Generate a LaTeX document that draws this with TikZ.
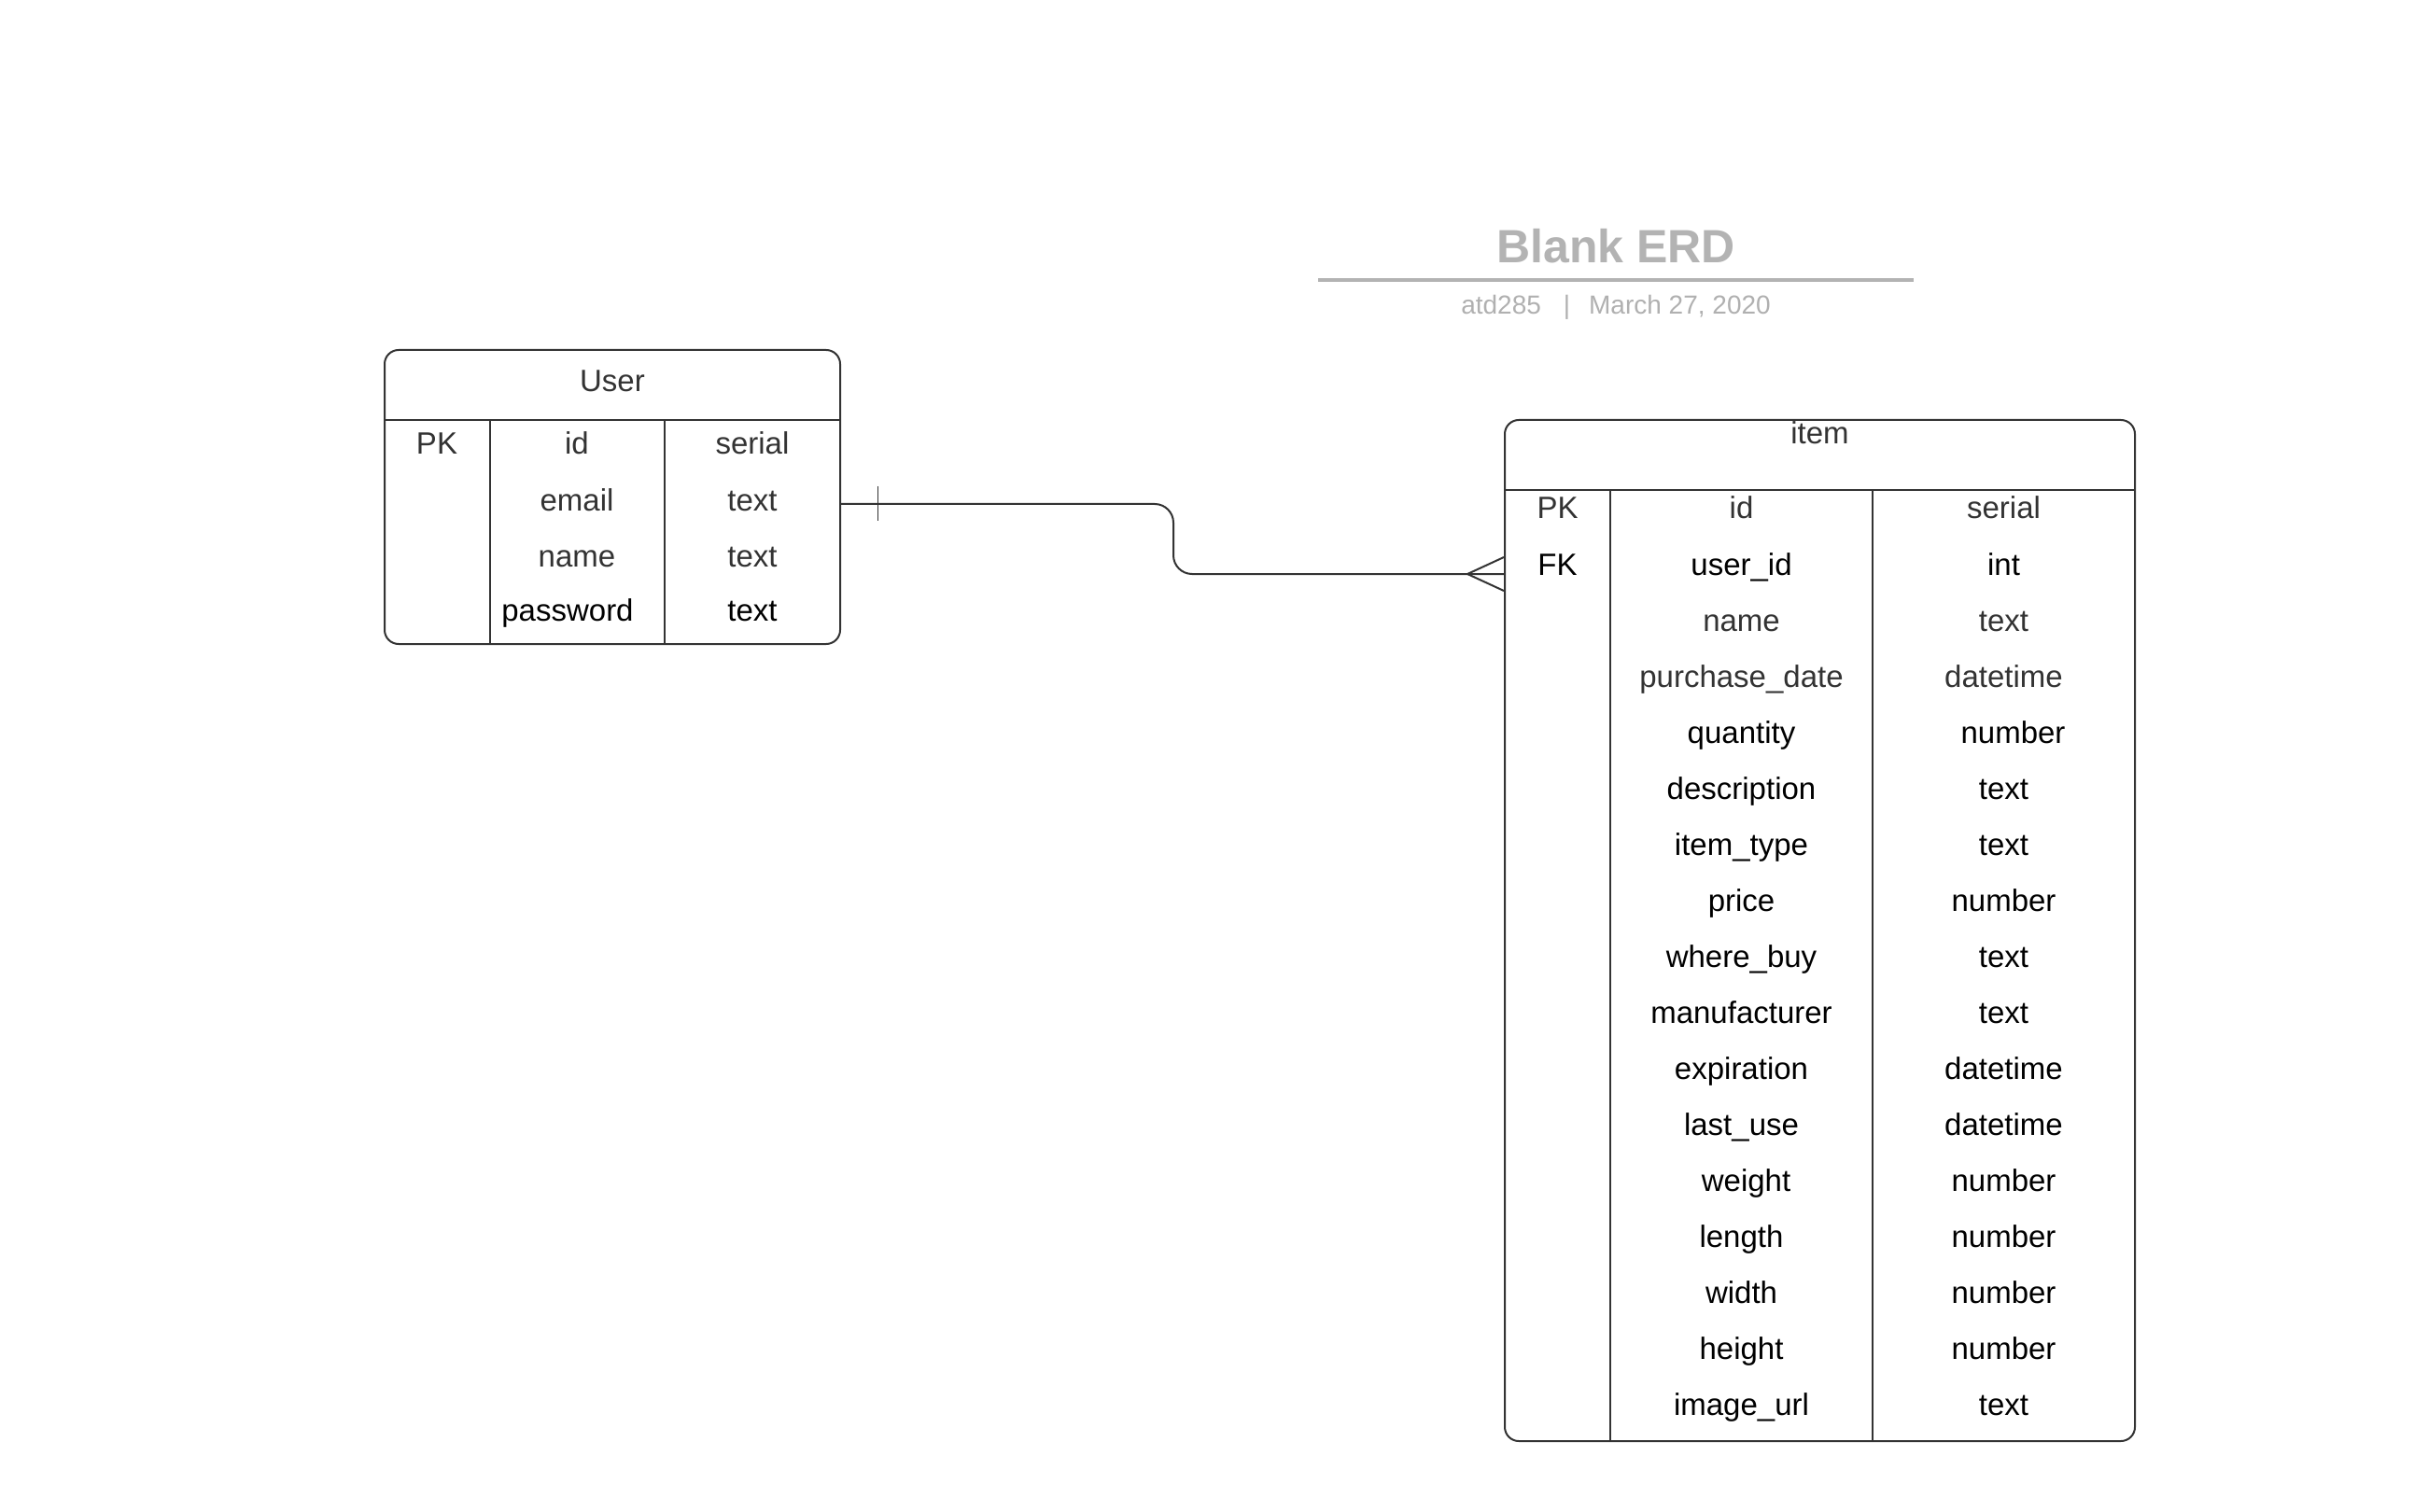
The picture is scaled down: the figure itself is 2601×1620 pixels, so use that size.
\documentclass[tikz,border=0pt]{standalone}
\usepackage{fontspec}
\setmainfont{Liberation Sans}
\usetikzlibrary{positioning}
\definecolor{ErdLine}{HTML}{333333}
\definecolor{ErdText}{HTML}{333333}
\definecolor{ErdTitle}{HTML}{B3B3B3}
\definecolor{ErdSub}{HTML}{B0B0B0}

\begin{document}
\begin{tikzpicture}[
  x=0.5pt,y=-0.5pt,
  entity/.style={draw=ErdLine,line width=1pt,rounded corners=7.5pt,
    inner sep=0pt},
  divider/.style={draw=ErdLine,line width=0.75pt},
  relation/.style={draw=ErdLine,line width=1pt},
  cell/.style={anchor=base,inner sep=0pt,text=ErdText,
    font=\fontsize{16.5}{18}\selectfont},
  cellk/.style={cell,text=black},
  head/.style={cell},
  title/.style={anchor=base,inner sep=0pt,text=ErdTitle,
    font=\bfseries\fontsize{25}{28}\selectfont},
  subtitle/.style={anchor=base,inner sep=0pt,text=ErdSub,
    font=\fontsize{14}{16}\selectfont}
]
\fill[white] (0,0) rectangle (2601,1620);

% title block
\node[title] (erdtitle) at (1731,282) {Blank ERD};
\draw[ErdTitle,line width=2pt] (1412,300) -- (2050,300);
\node[subtitle] (erdsub) at (1731,337)
  {atd285\hspace{12pt}|\hspace{10pt}March 27, 2020};

% User table
\node[entity,minimum width=244pt,minimum height=157.5pt] (user) at (656,532.5) {};
\draw[divider] (412,450) -- (900,450);
\draw[divider] (525,450) -- (525,690);
\draw[divider] (712,450) -- (712,690);
\node[head] (uhead) at (656,420) {User};
\node[cell] (upk) at (468,487) {PK};
\node[cell] (uid) at (618,487) {id};
\node[cell] (uidt) at (806,487) {serial};
\node[cell] (uemail) at (618,547) {email};
\node[cell] (uemailt) at (806,547) {text};
\node[cell] (uname) at (618,607) {name};
\node[cell] (unamet) at (806,607) {text};
\node[cellk] (upass) at (608,665) {password};
\node[cellk] (upasst) at (806,665) {text};

% item table
\node[entity,minimum width=337.5pt,minimum height=547pt] (item) at (1949.5,997) {};
\draw[divider] (1612,525) -- (2287,525);
\draw[divider] (1725,525) -- (1725,1544);
\draw[divider] (2006,525) -- (2006,1544);
\node[head] (ihead) at (1949.5,476) {item};
\node[cell] (ipk) at (1668.5,556) {PK};
\node[cell] (iid) at (1865.5,556) {id};
\node[cell] (iidt) at (2146.5,556) {serial};
\node[cellk] (ifk) at (1668.5,616) {FK};
\node[cellk] (iuserid) at (1865.5,616) {user\_id};
\node[cellk] (iuseridt) at (2146.5,616) {int};
\node[cell] (iname) at (1865.5,676) {name};
\node[cell] (inamet) at (2146.5,676) {text};
\node[cell] (idate) at (1865.5,736) {purchase\_date};
\node[cell] (idatet) at (2146.5,736) {datetime};
\foreach \fld/\typ/\fx/\tx [count=\r from 5] in {quantity/number/0/10,
    description/text/0/0,item\_type/text/0/0,price/number/0/0,
    where\_buy/text/0/0,manufacturer/text/0/0,expiration/datetime/0/0,
    last\_use/datetime/0/0,weight/number/5/0,length/number/0/0,
    width/number/0/0,height/number/0/0,image\_url/text/0/0}{
  \node[cellk] (ifld\r) at ({1865.5+\fx},{556+(\r-1)*60}) {\fld};
  \node[cellk] (ityp\r) at ({2146.5+\tx},{556+(\r-1)*60}) {\typ};
}

% one user, many items
\coordinate (bend) at (1257,578);
\draw[relation,rounded corners=10pt] ([yshift=3.5pt]uemail.base -| user.east)
  -- ([yshift=3.5pt]uemail.base -| bend)
  -- ([yshift=0.5pt]iuserid.base -| bend)
  -- ([yshift=0.5pt]iuserid.base -| item.west);
\draw[ErdLine,line width=0.5pt] ([yshift=3.5pt]uemail.base -| user.east)
  ++(39,-19) -- ++(0,37);
\draw[relation] ([yshift=0.5pt]iuserid.base -| item.west)
  ++(0,-18) -- ++(-39,18) -- ++(39,18);

\end{tikzpicture}
\end{document}
